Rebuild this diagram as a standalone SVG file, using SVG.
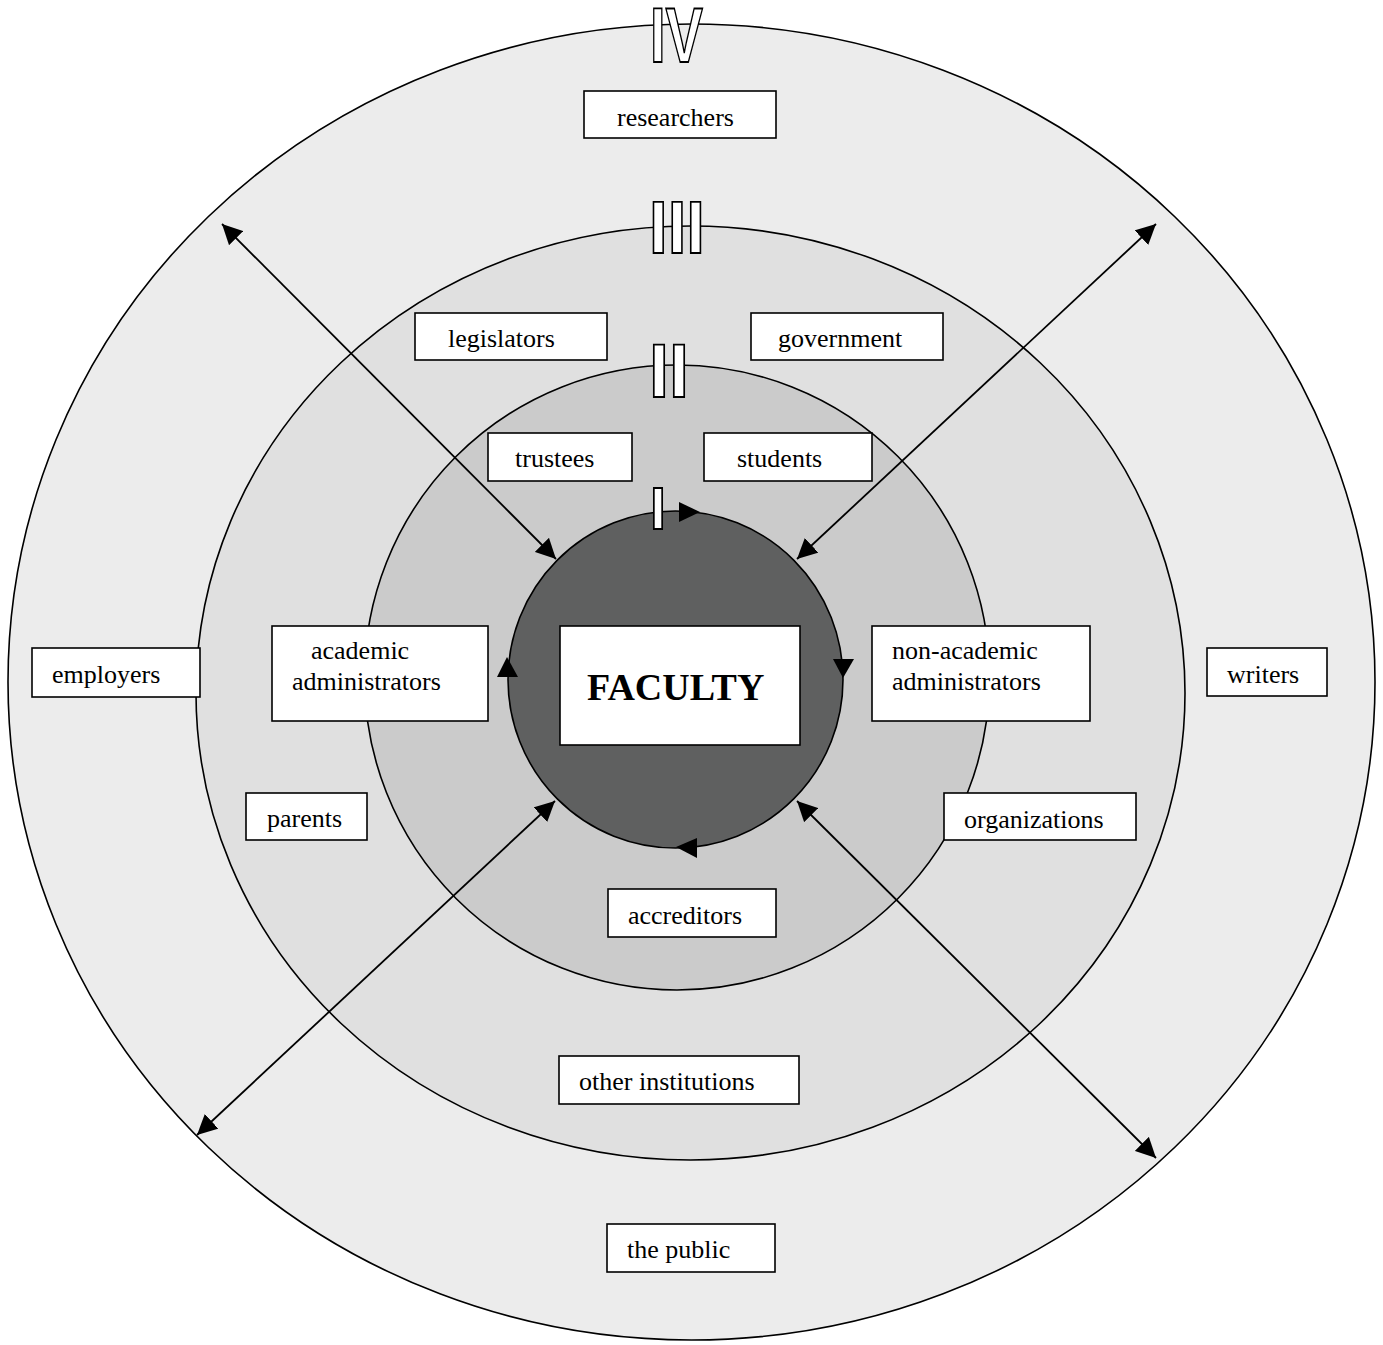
<svg xmlns="http://www.w3.org/2000/svg" width="1383" height="1345" viewBox="0 0 1383 1345">
<style>
.ring{stroke:#000;stroke-width:1.6}
.box{fill:#fff;stroke:#000;stroke-width:1.6}
.lbl{font-family:"Liberation Serif","Times New Roman",serif;font-size:26px;fill:#000}
.num{font-family:"Liberation Sans",Arial,sans-serif;font-weight:bold;fill:#fff;stroke:#000;stroke-width:1.8}
.conn{stroke:#000;stroke-width:1.8;fill:none}
.head{fill:#000}
</style>
<defs>
<marker id="ah" viewBox="0 0 20 20" refX="20" refY="10" markerWidth="20" markerHeight="20" markerUnits="userSpaceOnUse" orient="auto-start-reverse">
<path d="M0,0 L20,10 L0,20 z" fill="#000"/>
</marker>
</defs>
<rect width="1383" height="1345" fill="#fff"/>
<g id="rings">
<ellipse class="ring" cx="691.5" cy="682" rx="683.5" ry="658" fill="#ececec"/>
<ellipse class="ring" cx="690.5" cy="693" rx="494.5" ry="467" fill="#e0e0e0"/>
<ellipse class="ring" cx="677" cy="677.5" rx="312.5" ry="312.5" fill="#cbcbcb"/>
<ellipse class="ring" cx="675.5" cy="679.5" rx="167.5" ry="168.5" fill="#5f6060"/>
</g>
<g id="connectors">
<line class="conn" x1="222" y1="224" x2="556" y2="559" marker-start="url(#ah)" marker-end="url(#ah)"/>
<line class="conn" x1="1156" y1="224" x2="797" y2="559" marker-start="url(#ah)" marker-end="url(#ah)"/>
<line class="conn" x1="197" y1="1135" x2="555" y2="801" marker-start="url(#ah)" marker-end="url(#ah)"/>
<line class="conn" x1="1156" y1="1158" x2="797" y2="801" marker-start="url(#ah)" marker-end="url(#ah)"/>
<polygon class="head" points="679,502 700,512 679,522"/>
<polygon class="head" points="833,659 854,659 843,678"/>
<polygon class="head" points="697,838 676,847 697,858"/>
<polygon class="head" points="497,677 518,677 507,657"/>
</g>
<g id="numerals">
<text class="num" x="650" y="62" font-size="78" textLength="53" lengthAdjust="spacingAndGlyphs">IV</text>
<text class="num" x="649" y="253" font-size="75" textLength="56" lengthAdjust="spacingAndGlyphs">III</text>
<text class="num" x="649" y="397" font-size="76" textLength="40" lengthAdjust="spacingAndGlyphs">II</text>
<text class="num" x="650" y="529" font-size="60" textLength="16" lengthAdjust="spacingAndGlyphs">I</text>
</g>
<g id="node-researchers"><rect class="box" x="584" y="91" width="192" height="47"/><text class="lbl" x="617" y="126">researchers</text></g>
<g id="node-legislators"><rect class="box" x="415" y="313" width="192" height="47"/><text class="lbl" x="448" y="347">legislators</text></g>
<g id="node-government"><rect class="box" x="751" y="313" width="192" height="47"/><text class="lbl" x="778" y="347">government</text></g>
<g id="node-trustees"><rect class="box" x="488" y="433" width="144" height="48"/><text class="lbl" x="515" y="467">trustees</text></g>
<g id="node-students"><rect class="box" x="704" y="433" width="168" height="48"/><text class="lbl" x="737" y="467">students</text></g>
<g id="node-academic-administrators"><rect class="box" x="272" y="626" width="216" height="95"/><text class="lbl" x="311" y="659">academic</text><text class="lbl" x="292" y="690">administrators</text></g>
<g id="node-faculty"><rect class="box" x="560" y="626" width="240" height="119"/><text x="587" y="700" font-family="Liberation Serif,'Times New Roman',serif" font-weight="bold" font-size="38">FACULTY</text></g>
<g id="node-non-academic-administrators"><rect class="box" x="872" y="626" width="218" height="95"/><text class="lbl" x="892" y="659">non-academic</text><text class="lbl" x="892" y="690">administrators</text></g>
<g id="node-employers"><rect class="box" x="32" y="648" width="168" height="49"/><text class="lbl" x="52" y="683">employers</text></g>
<g id="node-writers"><rect class="box" x="1207" y="648" width="120" height="48"/><text class="lbl" x="1227" y="683">writers</text></g>
<g id="node-parents"><rect class="box" x="246" y="793" width="121" height="47"/><text class="lbl" x="267" y="827">parents</text></g>
<g id="node-organizations"><rect class="box" x="944" y="793" width="192" height="47"/><text class="lbl" x="964" y="828">organizations</text></g>
<g id="node-accreditors"><rect class="box" x="608" y="889" width="168" height="48"/><text class="lbl" x="628" y="924">accreditors</text></g>
<g id="node-other-institutions"><rect class="box" x="559" y="1056" width="240" height="48"/><text class="lbl" x="579" y="1090">other institutions</text></g>
<g id="node-the-public"><rect class="box" x="607" y="1224" width="168" height="48"/><text class="lbl" x="627" y="1258">the public</text></g>
</svg>
